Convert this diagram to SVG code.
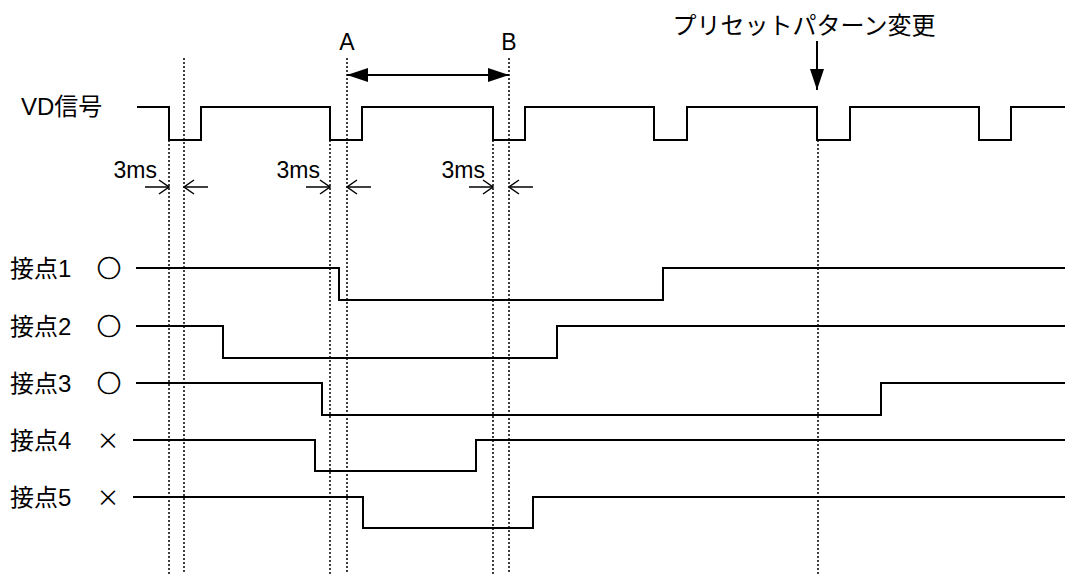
<svg xmlns="http://www.w3.org/2000/svg" width="1065" height="574" viewBox="0 0 1065 574">
<style>
text{font-family:"Liberation Sans","Noto Sans CJK JP",sans-serif;font-size:23px;fill:#000}
.jp{font-size:24px}
.sym{font-family:"Noto Sans CJK JP",sans-serif;font-size:24px;stroke:#000;stroke-width:0.7}
.x{font-family:"Noto Sans CJK JP",sans-serif;font-size:23px}
.sig{fill:none;stroke:#000;stroke-width:2}
.dot{fill:none;stroke:#000;stroke-width:1.5;stroke-dasharray:2,2}
.dim{fill:none;stroke:#000;stroke-width:1.5}
.big{fill:none;stroke:#000;stroke-width:2}
</style>
<defs>
<marker id="open" markerUnits="userSpaceOnUse" markerWidth="14" markerHeight="16" viewBox="-1 -8 13 16" refX="10" refY="0" orient="auto">
<path d="M0,-7 L10,0 L0,7" fill="none" stroke="#000" stroke-width="1.5"/>
</marker>
<marker id="solid" markerUnits="userSpaceOnUse" markerWidth="22" markerHeight="16" viewBox="0 -8 22 16" refX="21" refY="0" orient="auto-start-reverse">
<path d="M0,-7 L21,0 L0,7 Z" fill="#000"/>
</marker>
</defs>
<rect width="1065" height="574" fill="#fff"/>

<g id="guides">
<line class="dot" x1="169" y1="140" x2="169" y2="574"/>
<line class="dot" x1="184" y1="58" x2="184" y2="574"/>
<line class="dot" x1="330" y1="140" x2="330" y2="574"/>
<line class="dot" x1="347" y1="58" x2="347" y2="574"/>
<line class="dot" x1="493" y1="140" x2="493" y2="574"/>
<line class="dot" x1="509" y1="58" x2="509" y2="574"/>
<line class="dot" x1="818" y1="140" x2="818" y2="574"/>
</g>

<g id="vd">
<text class="jp" x="21" y="115">VD信号</text>
<path class="sig" d="M137,107 H169 V140 H201 V107 H330 V140 H362 V107 H493 V140 H525 V107 H654 V140 H687 V107 H817 V140 H850 V107 H979 V140 H1011 V107 H1065"/>
</g>

<g id="c1">
<text class="jp" x="10" y="277">接点1</text><text class="sym" x="109" y="277" text-anchor="middle">○</text>
<path class="sig" d="M136,268 H339 V300 H663 V268 H1065"/>
</g>
<g id="c2">
<text class="jp" x="10" y="335">接点2</text><text class="sym" x="109" y="335" text-anchor="middle">○</text>
<path class="sig" d="M136,326 H223 V358 H557 V326 H1065"/>
</g>
<g id="c3">
<text class="jp" x="10" y="392">接点3</text><text class="sym" x="109" y="392" text-anchor="middle">○</text>
<path class="sig" d="M136,383 H322 V415 H881 V383 H1065"/>
</g>
<g id="c4">
<text class="jp" x="10" y="449">接点4</text><text class="x" x="108" y="449" text-anchor="middle">×</text>
<path class="sig" d="M133,440 H315 V471 H476 V440 H1065"/>
</g>
<g id="c5">
<text class="jp" x="10" y="506">接点5</text><text class="x" x="108" y="506" text-anchor="middle">×</text>
<path class="sig" d="M133,497 H363 V528 H533 V497 H1065"/>
</g>

<g id="labels">
<text x="347" y="50" text-anchor="middle">A</text>
<text x="509" y="50" text-anchor="middle">B</text>
<text class="jp" x="804" y="34" text-anchor="middle">プリセットパターン変更</text>
<text x="157" y="178" text-anchor="end">3ms</text>
<text x="320" y="178" text-anchor="end">3ms</text>
<text x="485" y="178" text-anchor="end">3ms</text>
</g>

<g id="connectors">
<line class="big" x1="347" y1="75" x2="509" y2="75" marker-start="url(#solid)" marker-end="url(#solid)"/>
<line class="big" x1="817" y1="41" x2="817" y2="90" marker-end="url(#solid)"/>
<line class="dim" x1="145" y1="187" x2="169" y2="187" marker-end="url(#open)"/>
<line class="dim" x1="208" y1="187" x2="184" y2="187" marker-end="url(#open)"/>
<line class="dim" x1="306" y1="187" x2="330" y2="187" marker-end="url(#open)"/>
<line class="dim" x1="371" y1="187" x2="347" y2="187" marker-end="url(#open)"/>
<line class="dim" x1="469" y1="187" x2="493" y2="187" marker-end="url(#open)"/>
<line class="dim" x1="533" y1="187" x2="509" y2="187" marker-end="url(#open)"/>
</g>
</svg>
